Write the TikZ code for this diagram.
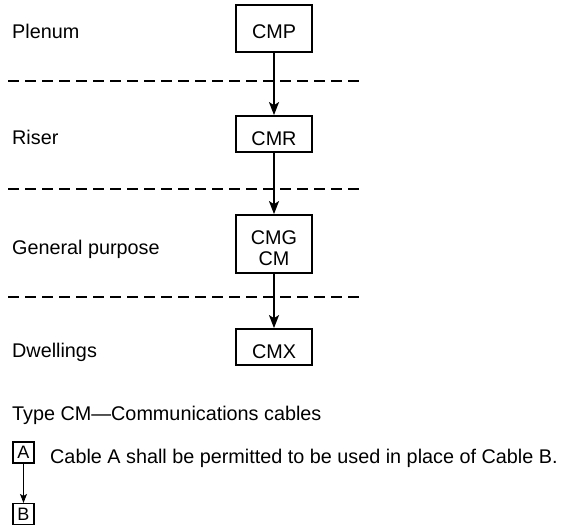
\documentclass[tikz,border=0pt]{standalone}
\usepackage{fontspec}
\setmainfont{Liberation Sans}
\usetikzlibrary{arrows.meta}
\begin{document}
\begin{tikzpicture}[x=1pt,y=-1pt,
  font=\fontsize{19.8}{20.5}\selectfont,
  cbox/.style={draw,line width=1.8pt,minimum width=76pt,inner sep=0pt,align=center,text depth=0pt},
  lbl/.style={anchor=base west,inner sep=0pt},
  sep/.style={line width=1.2pt,dash pattern=on 11pt off 6pt},
  arr/.style={line width=1.5pt,-{Stealth[length=13pt,width=10pt,inset=3pt]}},
  sbox/.style={draw,line width=1.1pt,minimum width=21pt,minimum height=21pt,inner sep=0pt,font=\fontsize{18}{18}\selectfont},
  sarr/.style={line width=1pt,-{Stealth[length=9pt,width=7pt,inset=2pt]}}]
\useasboundingbox (0,0) rectangle (561,527);
% layer labels
\node[lbl] (lp) at (12,38) {Plenum};
\node[lbl] (lr) at (12,144) {Riser};
\node[lbl] (lg) at (12,254) {General purpose};
\node[lbl] (ld) at (12,357) {Dwellings};
% separators
\coordinate (s1a) at (8,81);  \coordinate (s1b) at (363,81);
\coordinate (s2a) at (8,189); \coordinate (s2b) at (363,189);
\coordinate (s3a) at (8,297); \coordinate (s3b) at (363,297);
\draw[sep] (s1a) -- (s1b);
\draw[sep] (s2a) -- (s2b);
\draw[sep] (s3a) -- (s3b);
% boxes
\node[cbox,minimum height=47pt,text height=19pt] (cmp) at (274,28.5) {CMP};
\node[cbox,minimum height=36pt,text height=22pt] (cmr) at (274,134) {CMR};
\node[cbox,minimum height=58pt,text height=42pt] (cmg) at (274,244) {CMG\\CM};
\node[cbox,minimum height=36pt,text height=22pt] (cmx) at (274,347) {CMX};
\draw[arr] (cmp) -- (cmr);
\draw[arr] (cmr) -- (cmg);
\draw[arr] (cmg) -- (cmx);
% legend
\node[lbl] (type) at (12,420) {Type CM—Communications cables};
\node[sbox] (a) at (23.5,452.5) {A};
\node[sbox] (b) at (23.5,514) {B};
\draw[sarr] (a) -- (b);
\node[lbl] (txt) at (50,463) {Cable A shall be permitted to be used in place of Cable B.};
\end{tikzpicture}
\end{document}
